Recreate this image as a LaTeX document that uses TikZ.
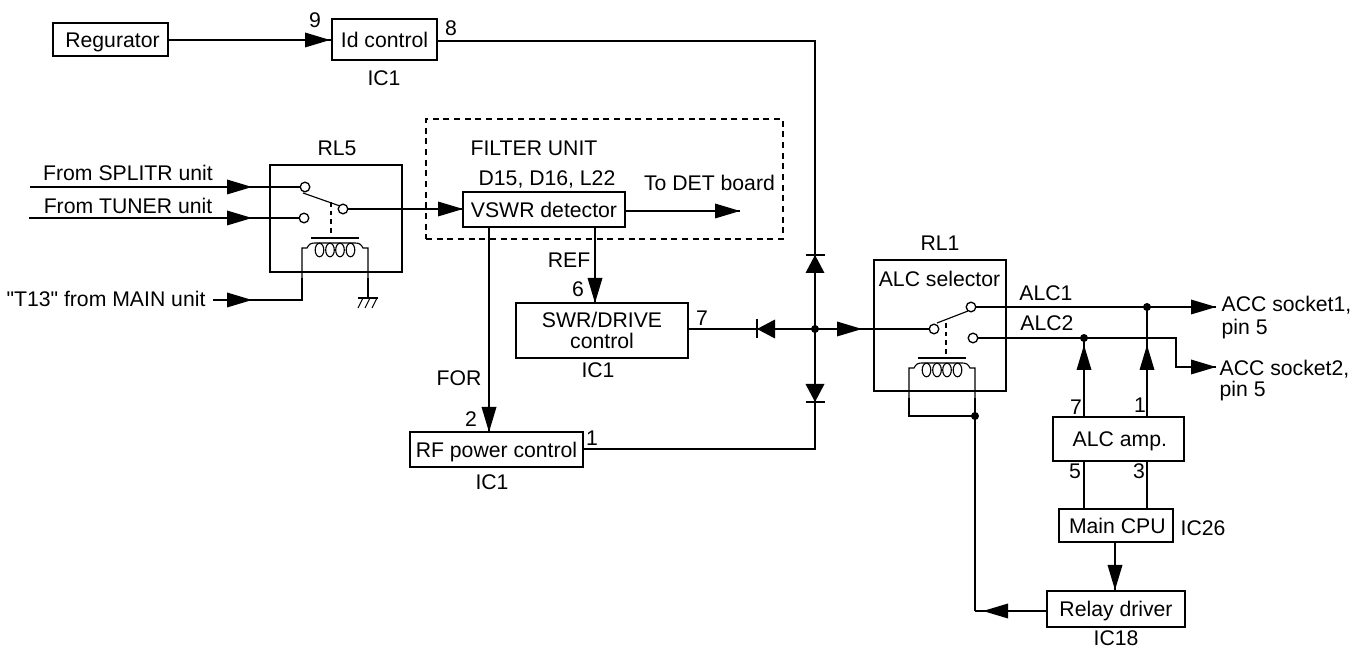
\documentclass[tikz,border=0pt]{standalone}
\usepackage{fontspec}
\setmainfont{Liberation Sans}[Ligatures=NoCommon]
\newfontfamily\plainq{Liberation Sans}[RawFeature={-tlig;-trep}]
\begin{document}
\begin{tikzpicture}[x=0.75pt,y=-0.75pt,line width=1pt,line join=miter,
  txt/.style={font=\fontsize{15.9pt}{18pt}\selectfont,inner sep=0pt,text height=11.3pt,text depth=0pt},
  boxn/.style 2 args={draw,txt,minimum width=#1*0.75pt,minimum height=#2*0.75pt},
  term/.style={draw,circle,fill=white,minimum size=7.2pt,inner sep=0pt},
  dotn/.style={circle,fill=black,minimum size=6pt,inner sep=0pt},
  aright/.pic={\fill (0,0)--(-25,-7.5)--(-25,7.5)--cycle;},
  aleft/.pic={\fill (0,0)--(25,-7.5)--(25,7.5)--cycle;},
  aup/.pic={\fill (0,0)--(-7.5,25)--(7.5,25)--cycle;},
  adown/.pic={\fill (0,0)--(-7.5,-25)--(7.5,-25)--cycle;},
  dup/.pic={\fill (0,0)--(-9.5,18)--(9.5,18)--cycle;\draw[line width=1.2pt] (-9.5,0)--(9.5,0);},
  ddown/.pic={\fill (0,0)--(-9.5,-18)--(9.5,-18)--cycle;\draw[line width=1.2pt] (-9.5,0)--(9.5,0);},
  dleft/.pic={\fill (0,0)--(18,-9.5)--(18,9.5)--cycle;\draw[line width=1.2pt] (0,-9.5)--(0,9.5);},
  coil/.pic={
    \draw[line width=1.2pt] (-24,0)--(24,0);
    \draw[line width=0.85pt] (-33,40)--(-33,10)--(-28,10) .. controls (-26,6) and (-24,5) .. (-20,5) -- (20,5) .. controls (24,5) and (26,6) .. (28,10) -- (33,10)--(33,40);
    \foreach \ox in {-15.5,-5,5,15.5}{\draw[line width=0.85pt] (\ox,12) ellipse [x radius=4.3,y radius=6.8];}
  }]
\useasboundingbox (0,0) rectangle (1365,648);

% boxes
\node[boxn={115}{33}] (reg) at (110.5,39.5) {\hspace*{3pt}Regurator};
\node[boxn={105}{41}] (idc) at (384.5,39.5) {Id control};
\node[draw,minimum width=132*0.75pt,minimum height=107*0.75pt,inner sep=0pt] (rl5) at (336,218.5) {};
\node[boxn={162}{35}] (vswr) at (544,209.5) {VSWR detector};
\node[draw,font=\fontsize{15.9pt}{15.8pt}\selectfont,align=center,inner sep=0pt,minimum width=172*0.75pt,minimum height=55*0.75pt] (swr) at (602,330.5) {SWR/DRIVE\\control};
\node[boxn={173}{35}] (rfp) at (496.5,449.5) {RF power control};
\node[draw,minimum width=132*0.75pt,minimum height=131*0.75pt,inner sep=0pt] (rl1) at (940,325.5) {};
\node[boxn={131}{44}] (amp) at (1118.5,439) {\hspace*{2pt}ALC amp.};
\node[boxn={114}{33}] (cpu) at (1116,525.5) {\hspace*{2pt}Main CPU};
\node[boxn={138}{36}] (drv) at (1116,609) {Relay driver};
\node[draw,dashed,dash pattern=on 4.5pt off 3.5pt,line width=0.8pt,minimum width=357*0.75pt,minimum height=120*0.75pt,inner sep=0pt] (filt) at (604.5,179) {};

% named points
\node[term] (s1) at (305,187) {};
\node[term] (s2) at (304,218) {};
\node[term] (sc) at (343,209) {};
\node[term] (r0) at (934,329) {};
\node[term] (r1) at (971,307) {};
\node[term] (r2) at (973,338) {};
\node[dotn] (j) at (815,329) {};
\node[dotn] (j1) at (1147,307) {};
\node[dotn] (j2) at (1084,338) {};
\node[dotn] (j3) at (975,416) {};
\coordinate (i1) at (30,187);
\coordinate (i2) at (29,218);
\coordinate (i3) at (213,300);
\coordinate (o1) at (1216,307);
\coordinate (o2) at (1216,367);
\coordinate (det) at (740,211);

% relay RL5 internals
\draw[line width=0.85pt] (303,193)--(340,206);
\draw[dashed,dash pattern=on 3.5pt off 3pt,line width=0.85pt] (331,202)--(331,238);
\pic at (335,238) {coil};
\draw (i3)--(302,300)--(302,278);
\draw (368,278)--(368,298);
\draw (358,298)--(378,298);
\foreach \gx in {363,370,377}{\draw[line width=0.8pt] (\gx,298)--(\gx-5,308);}

% relay RL1 internals
\draw[line width=0.85pt] (937,323)--(968,311);
\draw[dashed,dash pattern=on 3.5pt off 3pt,line width=0.85pt] (946,323)--(946,358);
\pic at (942,358) {coil};
\draw (909,398)--(909,416)--(j3.center);
\draw (975,398)--(975,611);

% connectors
\draw (reg.east |- 0,40)--(idc.west |- 0,40);
\pic at (330,40) {aright};
\draw (idc.east |- 0,41)--(815,41)--(j.center);
\pic at (815,255) {dup};
\draw (i1)--(s1);
\pic at (252,187) {aright};
\draw (i2)--(s2);
\pic at (252,218) {aright};
\pic at (252,300) {aright};
\draw (sc)--(sc -| vswr.west);
\pic at (463,209) {aright};
\draw (vswr.east |- det)--(det);
\pic at (det) {aright};
\draw (489,227)--(489,432);
\pic at (489,432) {adown};
\draw (595,227)--(595,303);
\pic at (595,303) {adown};
\draw (swr.east |- j)--(j.center);
\pic at (757,329) {dleft};
\draw (rfp.east |- 0,449)--(815,449)--(j.center);
\pic at (815,402) {ddown};
\draw (j.center)--(r0);
\pic at (862,329) {aright};
\draw (r1)--(o1);
\pic at (o1) {aright};
\draw (r2)--(1176,338)--(1176,367)--(o2);
\pic at (o2) {aright};
\draw (1084,417)--(j2.center);
\pic at (1084,345) {aup};
\draw (1147,417)--(j1.center);
\pic at (1147,345) {aup};
\draw (1084,461)--(1084,509);
\draw (1147,461)--(1147,509);
\draw (1115,542)--(1115,591);
\pic at (1115,590) {adown};
\draw (drv.west |- 0,611)--(975,611);
\pic at (983,611) {aleft};

% labels
\foreach \n/\lx/\ly/\t in {
 l9/315/20/9, l8/451/28/8, l6/578/289/6, l7a/702/318/7, l2/471/419/2, l1/592/438/1,
 l7b/1076/407/7, l1b/1140/405/1, l5/1075/471/5, l3/1139/471/3,
 lrl5/337/148/RL5, lrl1/940/243/RL1, lic1/384/78/IC1, lic2/598/370/IC1, lic3/492/482/IC1,
 lic4/1203/528/IC26, lic5/1116/638/IC18, lfor/459/378/FOR, lref/569/260/REF,
 lsel/939.5/279/ALC selector, lfu/534/148/FILTER UNIT, ld/547/178/{D15, D16, L22}, ldet/709.5/183/To DET board,
 lsp/128/173/From SPLITR unit, ltu/128/206/From TUNER unit,
 lalc1/1046/293/ALC1, lalc2/1047/323/ALC2}{
 \node[txt] (\n) at (\lx,\ly) {\t};
}
\node[txt] (lt13) at (106,299) {{\plainq "T13" from MAIN unit}};
\node[txt,anchor=west] (ac1) at (1221,304) {ACC socket1,};
\node[txt,anchor=west] (p1) at (1221,327) {pin 5};
\node[txt,anchor=west] (ac2) at (1219,368) {ACC socket2,};
\node[txt,anchor=west] (p2) at (1219,389) {pin 5};
\end{tikzpicture}
\end{document}
